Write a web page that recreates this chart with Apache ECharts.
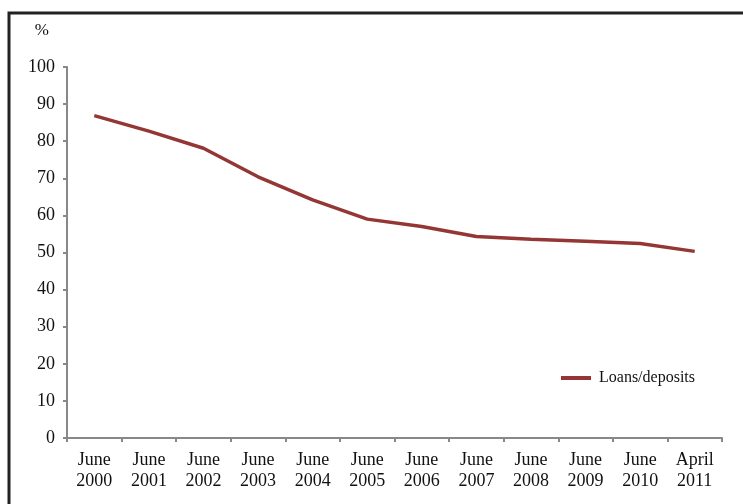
<!DOCTYPE html>
<html>
<head>
<meta charset="utf-8">
<script src="https://cdn.jsdelivr.net/npm/echarts@6/dist/echarts.min.js"></script>
<style>
  html, body { margin: 0; padding: 0; background: #fff; }
  #chart { width: 743px; height: 504px; }
</style>
</head>
<body>
<div id="chart"></div>
<script>
  // categories / values
  const periods = ['June\n2000', 'June\n2001', 'June\n2002', 'June\n2003', 'June\n2004', 'June\n2005',
                   'June\n2006', 'June\n2007', 'June\n2008', 'June\n2009', 'June\n2010', 'April\n2011'];
  const loansDeposits = [86.9, 82.7, 78.1, 70.4, 64.2, 59.0, 57.0, 54.3, 53.6, 53.0, 52.4, 50.3];
  const yTicks = [0, 10, 20, 30, 40, 50, 60, 70, 80, 90, 100];

  const serif = '"Liberation Serif", "DejaVu Serif", serif';
  const chart = echarts.init(document.getElementById('chart'), null, { renderer: 'canvas' });

  chart.setOption({
    animation: false,
    textStyle: { fontFamily: serif, color: '#111' },
    grid: { left: 67, right: 21, top: 67, bottom: 66 },
    // frame around the figure (cut off right and bottom)
    graphic: [{
      type: 'rect',
      shape: { x: 9, y: 13, width: 760, height: 520 },
      style: { fill: 'none', stroke: '#222', lineWidth: 3 },
      silent: true
    }],
    legend: {
      left: 556, top: 365,
      icon: 'rect', itemWidth: 30, itemHeight: 4, itemGap: 10,
      textStyle: { fontFamily: serif, fontSize: 16, color: '#111', padding: [0, 0, 0, 3] },
      data: ['Loans/deposits']
    },
    xAxis: {
      type: 'category',
      data: periods,
      boundaryGap: true,
      axisLine: { lineStyle: { color: '#888', width: 2 } },
      axisTick: { show: true, length: 4, lineStyle: { color: '#888', width: 2 } },
      axisLabel: { fontFamily: serif, fontSize: 18, color: '#111', lineHeight: 21, margin: 12, interval: 0 },
      splitLine: { show: false }
    },
    yAxis: {
      type: 'value',
      min: yTicks[0], max: yTicks[yTicks.length - 1], interval: 10,
      name: '%',
      nameLocation: 'end',
      nameGap: 28,
      nameTextStyle: { fontFamily: serif, fontSize: 17, color: '#111', align: 'right', padding: [0, 18, 0, 0] },
      axisLine: { show: true, lineStyle: { color: '#888', width: 2 } },
      axisTick: { show: true, length: 4, lineStyle: { color: '#888', width: 2 } },
      axisLabel: { fontFamily: serif, fontSize: 18, color: '#111', margin: 12 },
      splitLine: { show: false }
    },
    series: [{
      name: 'Loans/deposits',
      type: 'line',
      data: loansDeposits,
      showSymbol: false,
      symbol: 'none',
      itemStyle: { color: '#943634' },
      lineStyle: { color: '#943634', width: 3.5 }
    }]
  });
</script>
</body>
</html>
